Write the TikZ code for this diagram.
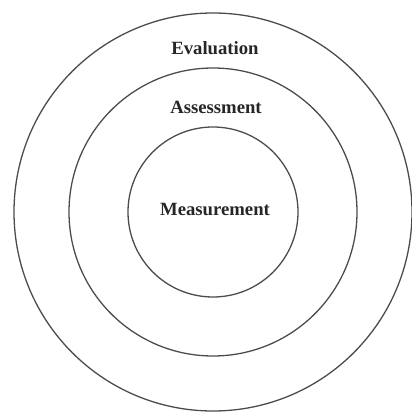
\documentclass[tikz,border=0pt]{standalone}
\usepackage{fontspec}
\setmainfont{Liberation Serif}
\tikzset{
  ring/.style={draw=black!70, line width=1.3pt},
  layer/.style={font=\fontsize{18.7}{22}\selectfont\bfseries, text=black!85, inner sep=0pt}
}
\begin{document}
\begin{tikzpicture}[x=1pt,y=1pt]
            \useasboundingbox (0,0) rectangle (412,413);
            \coordinate (c) at (213,201);
            \draw [ring] (c) circle (199);
            \draw [ring] (c) circle (144);
            \draw [ring] (c) circle (85);
            \node [layer] (eval) at (215,365) {Evaluation};
            \node [layer] (assess) at (216,306) {Assessment};
            \node [layer] (meas) at (215,204) {Measurement};
        \end{tikzpicture}
\end{document}
